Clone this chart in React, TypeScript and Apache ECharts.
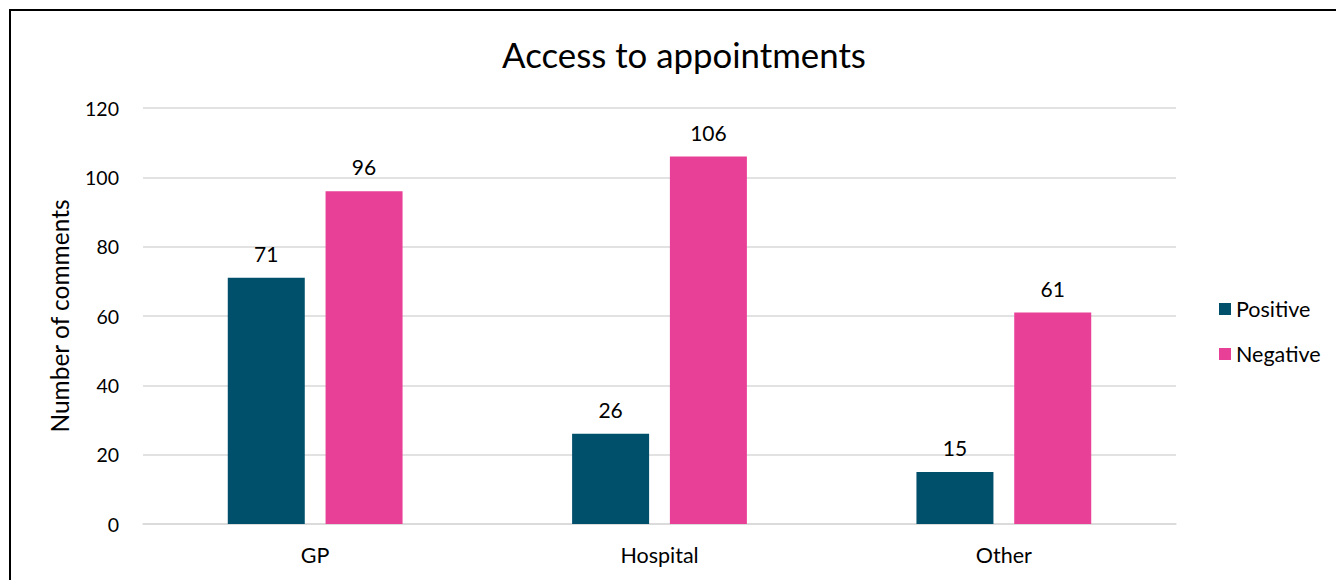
import React, { useEffect, useRef } from "react";
import * as echarts from "echarts";

const categories = ["GP", "Hospital", "Other"];
const positive = [71, 26, 15];
const negative = [96, 106, 61];
const seriesNames = ["Positive", "Negative"];
const title = "Access to appointments";
const yAxisName = "Number of comments";

const FONT = "Lato, 'Open Sans', sans-serif";

export default function App() {
  const ref = useRef<HTMLDivElement>(null);
  useEffect(() => {
    document.body.style.margin = "0";
    const chart = echarts.init(ref.current!, undefined, { renderer: "svg" });
    chart.setOption({
      animation: false,
      backgroundColor: "#ffffff",
      textStyle: { fontFamily: FONT },
      title: {
        text: title,
        left: 679,
        textAlign: "center",
        top: 32,
        textStyle: { fontFamily: FONT, fontSize: 34.8, fontWeight: "normal", color: "#000" },
      },
      graphic: [
        {
          type: "rect",
          shape: { x: 10, y: 10, width: 1400, height: 700 },
          style: { fill: "none", stroke: "#000", lineWidth: 2 },
          silent: true,
        },
      ],
      legend: {
        orient: "vertical",
        left: 1214,
        top: 293,
        itemWidth: 12,
        itemHeight: 12,
        itemGap: 23,
        icon: "rect",
        textStyle: { fontFamily: FONT, fontSize: 21.5, color: "#000" },
        data: seriesNames,
      },
      grid: { left: 143, right: 160, top: 108, bottom: 56, containLabel: false },
      xAxis: {
        type: "category",
        data: categories,
        axisLine: { lineStyle: { color: "#d9d9d9", width: 1.5 } },
        axisTick: { show: false },
        axisLabel: { fontFamily: FONT, fontSize: 21.5, color: "#000", margin: 20 },
      },
      yAxis: {
        type: "value",
        min: 0,
        max: 120,
        interval: 20,
        name: yAxisName,
        nameLocation: "middle",
        nameGap: 71,
        nameTextStyle: { fontFamily: FONT, fontSize: 24.5, color: "#000" },
        axisLine: { show: false },
        axisTick: { show: false },
        axisLabel: { fontFamily: FONT, fontSize: 19.5, color: "#000", margin: 24 },
        splitLine: { lineStyle: { color: "#d9d9d9", width: 1.5 } },
      },
      series: [
        {
          name: seriesNames[0],
          type: "bar",
          data: positive,
          barWidth: 77,
          barGap: "27%",
          itemStyle: { color: "#004f6b" },
          label: { show: true, position: "top", distance: 14, fontFamily: FONT, fontSize: 21, color: "#000" },
        },
        {
          name: seriesNames[1],
          type: "bar",
          data: negative,
          barWidth: 77,
          barGap: "27%",
          itemStyle: { color: "#e84096" },
          label: { show: true, position: "top", distance: 14, fontFamily: FONT, fontSize: 21, color: "#000" },
        },
      ],
    });
    return () => chart.dispose();
  }, []);
  return <div ref={ref} style={{ width: 1336, height: 580 }} />;
}
